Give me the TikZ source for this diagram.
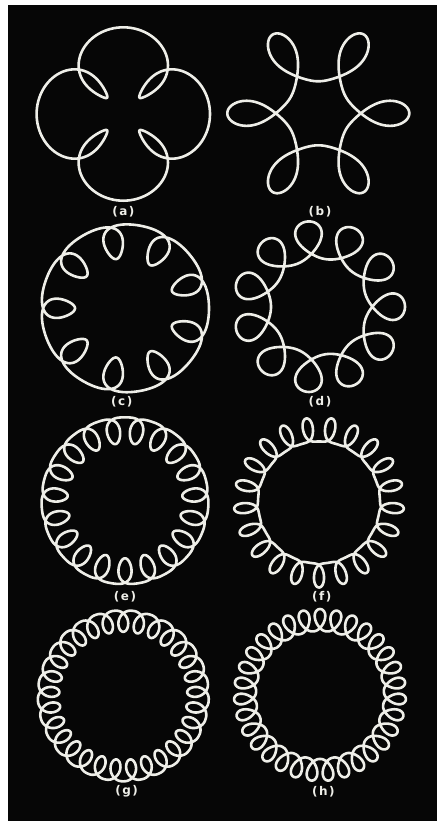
\documentclass[tikz,border=0pt]{standalone}
\usepackage{xcolor}
\usepackage{fontspec}
\usepackage{tikz}
\usetikzlibrary{positioning}
\newfontfamily\tagfont{DejaVu Sans Bold}
\definecolor{screen}{HTML}{060606}
\definecolor{glow}{HTML}{EEEEE8}

\begin{document}
\begin{tikzpicture}[
  x=1pt, y=-1pt,
  curve/.style={draw=glow, line width=2.6pt, line join=round},
  tag/.style={text=glow, font=\tagfont\fontsize{12}{13}\selectfont, inner sep=0pt},
  declare function={
    sweeprad(\tA,\rA,\aA,\mA,\oA,\fA)=\rA+\aA*(cos(\mA*(\tA-\oA))+\fA*(2*cos(\mA*(\tA-\oA))^2-1));
    sweepang(\tA,\mA,\oA,\pA,\qA)=\tA-57.2958*sin(\mA*(\tA-\oA))*(\pA+2*\qA*cos(\mA*(\tA-\oA)));
  }
]
\useasboundingbox (0,0) rectangle (437,827);
\fill[white] (0,0) rectangle (437,827);
\fill[screen] (8,5) rectangle (437,821);

% ratio 5
\draw[curve, shift={(123.3,114)}] plot[domain=0:360, samples=481]
  ({sweeprad(\x,54.85,-31.85,4,45,0)*cos(sweepang(\x,4,45,0.47,0))},
   {sweeprad(\x,54.85,-31.85,4,45,0)*sin(sweepang(\x,4,45,0.47,0))});
\draw[curve, shift={(318.3,113.3)}] plot[domain=0:360, samples=481]
  ({sweeprad(\x,61.5,29.5,6,0,0)*cos(sweepang(\x,6,0,0.435,-0.046))},
   {sweeprad(\x,61.5,29.5,6,0,0)*sin(sweepang(\x,6,0,0.435,-0.046))});

% ratio 10
\draw[curve, shift={(125,308.3)}] plot[domain=0:360, samples=901]
  ({sweeprad(\x,71.25,-17,9,20,0.25)*cos(sweepang(\x,9,20,0.2839,0.0152))},
   {sweeprad(\x,71.25,-17,9,20,0.25)*sin(sweepang(\x,9,20,0.2839,0.0152))});
\draw[curve, shift={(319,306.7)}] plot[domain=0:360, samples=901]
  ({sweeprad(\x,67,19,11,0,0)*cos(sweepang(\x,11,0,0.31,0))},
   {sweeprad(\x,67,19,11,0,0)*sin(sweepang(\x,11,0,0.31,0))});

% ratio 20
\draw[curve, shift={(125,500.8)}] plot[domain=0:360, samples=1441]
  ({sweeprad(\x,73.75,-13,19,90,0.25)*cos(sweepang(\x,19,90,0.1499,0.0226))},
   {sweeprad(\x,73.75,-13,19,90,0.25)*sin(sweepang(\x,19,90,0.1499,0.0226))});
\draw[curve, shift={(319,502.5)}] plot[domain=0:360, samples=1441]
  ({sweeprad(\x,70,12,21,4.28,0.25)*cos(sweepang(\x,21,4.28,0.1251,0.01))},
   {sweeprad(\x,70,12,21,4.28,0.25)*sin(sweepang(\x,21,4.28,0.1251,0.01))});

% ratio 30
\draw[curve, shift={(123.3,695.8)}] plot[domain=0:360, samples=1801]
  ({sweeprad(\x,77.44,-10.75,29,9.31,0.25)*cos(sweepang(\x,29,9.31,0.0835,0.035))},
   {sweeprad(\x,77.44,-10.75,29,9.31,0.25)*sin(sweepang(\x,29,9.31,0.0835,0.035))});
\draw[curve, shift={(320,695)}] plot[domain=0:360, samples=1801]
  ({sweeprad(\x,72.25,11,31,2.9,0.25)*cos(sweepang(\x,31,2.9,0.0793,0.035))},
   {sweeprad(\x,72.25,11,31,2.9,0.25)*sin(sweepang(\x,31,2.9,0.0793,0.035))});

\node[tag] (labA) at (123.3,211.7) {(\kern1.5pt a\kern1.5pt)};
\node[tag] (labB) at (320,211.7) {(\kern1.5pt b\kern1.5pt)};
\node[tag] (labC) at (121.7,401.7) {(\kern1.5pt c\kern1.5pt)};
\node[tag] (labD) at (320,401.7) {(\kern1.5pt d\kern1.5pt)};
\node[tag] (labE) at (125,596.7) {(\kern1.5pt e\kern1.5pt)};
\node[tag] (labF) at (321.7,596.7) {(\kern1.5pt f\kern1.5pt)};
\node[tag] (labG) at (126.7,791.7) {(\kern1.5pt g\kern1.5pt)};
\node[tag] (labH) at (323.3,791.7) {(\kern1.5pt h\kern1.5pt)};
\end{tikzpicture}
\end{document}
